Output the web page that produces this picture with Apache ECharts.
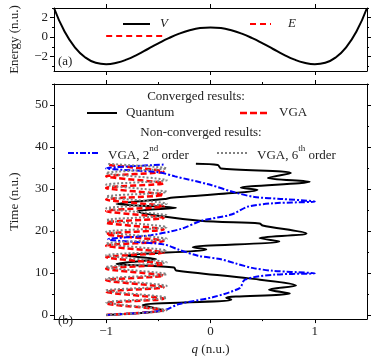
<!DOCTYPE html>
<html>
<head>
<meta charset="utf-8">
<script src="https://cdn.jsdelivr.net/npm/echarts@6/dist/echarts.min.js"></script>
<style>
  html, body { margin: 0; padding: 0; background: #fff; }
  #main { width: 374px; height: 361px; }
</style>
</head>
<body>
<div id="main"></div>
<script>
// (a) potential and energy
var potQ = [-1.5, -1.4, -1.3, -1.2, -1.1, -1.0, -0.9, -0.8, -0.7, -0.6, -0.5, -0.4, -0.3, -0.2, -0.1, 0,
            0.1, 0.2, 0.3, 0.4, 0.5, 0.6, 0.7, 0.8, 0.9, 1.0, 1.1, 1.2, 1.3, 1.4, 1.5]
var potV = [3.0, 0.6, -1.05, -2.1, -2.65, -2.8, -2.65, -2.3, -1.8, -1.23, -0.65, -0.11, 0.35, 0.7, 0.93, 1.0,
            0.93, 0.7, 0.35, -0.11, -0.65, -1.23, -1.8, -2.3, -2.65, -2.8, -2.65, -2.1, -1.05, 0.6, 3.0]
var energyQ = [-1.0, -0.45]
var energyE = [0.1, 0.1]

// (b) trajectories q(t)
var quantumT = [0, 1.1, 2.3, 3.6, 4.1, 5.1, 6.0, 7.0, 8.7, 10.6, 11.3, 12.2, 13.3, 14.1, 15.6, 16.1, 17.5, 18.3, 19.4,
                21.3, 21.8, 22.4, 24.7, 25.5, 26.4, 27.6, 27.9, 29.8, 30.3, 31.7, 32.6, 33.8, 34.9, 35.7, 36.0]
var quantumQ = [-1, -0.45, -0.65, 0.2, 0.15, 0.76, 0.56, 0.82, 0.37, -0.33, -0.35, -0.9, -0.52, -0.8, -0.04, -0.17, 0.66, 0.47, 0.92,
                0.5, 0.47, -0.1, -0.7, -0.33, -0.9, -0.44, -0.38, 0.45, 0.29, 0.95, 0.55, 0.77, 0.1, 0.07, -0.14]

var vgaT = [0, 1.1, 2.75, 3.85, 5.5, 6.6, 8.25, 9.35, 11.0, 12.1, 13.75, 14.85, 16.5, 17.6, 19.25, 20.35,
            22.0, 23.1, 24.75, 25.85, 27.5, 28.6, 30.25, 31.35, 33.0, 34.1, 35.75]
var vgaQ = [-1, -0.45, -1, -0.45, -1, -0.45, -1, -0.45, -1, -0.45, -1, -0.45, -1, -0.45, -1, -0.45,
            -1, -0.45, -1, -0.45, -1, -0.45, -1, -0.45, -1, -0.45, -1]

var vga2T = [0, 1.0, 2.6, 4.2, 6.4, 8.4, 9.6, 9.9, 10.5, 11.2, 12.2, 13.3, 14.1, 15.5, 16.8, 18.0, 19.0, 20.5,
             22.4, 23.9, 25.8, 26.6, 27.0, 27.6, 28.1, 29.2, 31.1, 33.0, 34.0, 34.9, 35.8]
var vga2Q = [-1, -0.46, -0.3, 0.02, 0.28, 0.33, 0.62, 1.0, 0.6, 0.4, 0.25, 0.09, -0.12, -0.3, -0.45, -0.98, -0.57, -0.28,
             -0.09, 0.2, 0.36, 0.61, 1.0, 0.7, 0.42, 0.23, -0.02, -0.34, -0.5, -1.0, -0.45]

var vga6T = [0, 1.1, 3.0, 4.1, 5.8, 6.9, 8.6, 9.7, 11.4, 12.5, 14.2, 15.3, 17.0, 18.1, 19.8, 20.9,
             22.6, 23.7, 25.4, 26.5, 28.2, 29.3, 31.0, 32.1, 33.8, 34.9, 36.0]
var vga6Q = [-1, -0.42, -1, -0.42, -1, -0.42, -1, -0.42, -1, -0.42, -1, -0.42, -1, -0.42, -1, -0.42,
             -1, -0.42, -1, -0.42, -1, -0.42, -1, -0.42, -1, -0.42, -1]

// tick values
var qTicks = [-1, 0, 1]
var qMinor = [-0.5, 0.5]
var eTicks = [-2, 0, 2]
var eMinor = [-3, -1, 1, 3]
var tTicks = [0, 10, 20, 30, 40, 50]
var tMinor = [5, 15, 25, 35, 45, 55]

var font = 'Liberation Serif'
var ink = '#222'
function pairs(xs, ys) { return xs.map(function (x, i) { return [x, ys[i]] }) }
function minus(v) { return v < 0 ? '\u2212' + (-v) : '' + v }

// one axis with major ticks (+labels) and one overlay axis for minor ticks
function makeAxes(grid, pos, min, max, major, minor, labels) {
  var line = { color: '#000', width: 1 }
  var out = [{
    type: 'value', gridIndex: grid, position: pos, min: min, max: max,
    axisLine: { show: true, onZero: false, lineStyle: line },
    axisTick: { show: true, customValues: major, length: 4, lineStyle: line },
    axisLabel: { show: labels, customValues: major, formatter: minus, color: ink, fontFamily: font, fontSize: 13, margin: 6 },
    splitLine: { show: false }
  }]
  if (minor.length) {
    out.push({
      type: 'value', gridIndex: grid, position: pos, min: min, max: max,
      axisLine: { show: false, onZero: false },
      axisTick: { show: true, customValues: minor, length: 2, lineStyle: line },
      axisLabel: { show: false },
      splitLine: { show: false }
    })
  }
  return out
}

var xAxis = [].concat(
  makeAxes(0, 'bottom', -1.5, 1.5, qTicks, [], false),   // 0
  makeAxes(0, 'top', -1.5, 1.5, qTicks, [], false),      // 1
  makeAxes(1, 'bottom', -1.5, 1.5, qTicks, qMinor, true), // 2,3
  makeAxes(1, 'top', -1.5, 1.5, qTicks, qMinor, false)    // 4,5
)
xAxis[2].name = '{i|q} (n.u.)'
xAxis[2].nameLocation = 'middle'
xAxis[2].nameGap = 21
xAxis[2].nameTextStyle = { fontFamily: font, fontSize: 13, color: ink, rich: { i: { fontStyle: 'italic', fontFamily: font, fontSize: 13, color: ink } } }

var yAxis = [].concat(
  makeAxes(0, 'left', -3.5, 3, eTicks, eMinor, true),     // 0,1
  makeAxes(0, 'right', -3.5, 3, eTicks, eMinor, false),   // 2,3
  makeAxes(1, 'left', -1, 55, tTicks, tMinor, true),      // 4,5
  makeAxes(1, 'right', -1, 55, tTicks, tMinor, false)     // 6,7
)
yAxis[0].name = 'Energy (n.u.)'
yAxis[0].nameLocation = 'middle'
yAxis[0].nameGap = 33
yAxis[0].nameTextStyle = { fontFamily: font, fontSize: 13, color: ink }
yAxis[4].name = 'Time (n.u.)'
yAxis[4].nameLocation = 'middle'
yAxis[4].nameGap = 33
yAxis[4].nameTextStyle = { fontFamily: font, fontSize: 13, color: ink }

// hand-placed legend keys, laid out like the original
function key(x1, x2, y, stroke, width, dash) {
  return { type: 'line', shape: { x1: x1, y1: y, x2: x2, y2: y },
           style: { stroke: stroke, lineWidth: width, lineDash: dash || null }, z: 10 }
}
function label(x, y, text, extra) {
  return { type: 'text', x: x, y: y, z: 10,
           style: Object.assign({ text: text, font: '13px ' + font, fill: ink, verticalAlign: 'middle' }, extra || {}) }
}
var supRich = {
  a: { fontFamily: font, fontSize: 13, color: ink, lineHeight: 18, verticalAlign: 'bottom' },
  s: { fontFamily: font, fontSize: 9, color: ink, lineHeight: 18, verticalAlign: 'top' }
}

var graphic = [
  key(123, 150, 24, '#000', 2),
  label(160, 24, 'V', { font: 'italic 13px ' + font }),
  key(250, 271, 24, '#ff0000', 2, [6, 4]),
  label(288, 24, 'E', { font: 'italic 13px ' + font }),
  label(58, 62, '(a)'),

  label(196, 97, 'Converged results:', { align: 'center' }),
  key(87, 117, 113, '#000', 2),
  label(126, 113, 'Quantum'),
  key(240, 268, 113, '#ff0000', 2.5, [7, 3]),
  label(279, 113, 'VGA'),
  label(201, 133, 'Non-converged results:', { align: 'center' }),
  key(68, 100, 153, '#0000ff', 2, [6, 2, 2, 2]),
  label(108, 153, '{a|VGA, 2}{s|nd}{a| order}', { rich: supRich }),
  key(217, 247, 153, '#808080', 2, [2, 2]),
  label(257, 153, '{a|VGA, 6}{s|th}{a| order}', { rich: supRich }),
  label(58, 321, '(b)')
]

var option = {
  animation: false,
  grid: [
    { left: 52, right: 7, top: 8, height: 63 },
    { left: 52, right: 7, top: 84, height: 246 }
  ],
  xAxis: xAxis,
  yAxis: yAxis,
  graphic: graphic,
  series: [
    { name: 'V', type: 'line', xAxisIndex: 0, yAxisIndex: 0, data: pairs(potQ, potV), smooth: true, symbol: 'none',
      lineStyle: { color: '#000', width: 2 } },
    { name: 'E', type: 'line', xAxisIndex: 0, yAxisIndex: 0, data: pairs(energyQ, energyE), symbol: 'none',
      lineStyle: { color: '#ff0000', width: 2, type: [6, 4] } },
    { name: 'Quantum', type: 'line', xAxisIndex: 2, yAxisIndex: 4, data: pairs(quantumQ, quantumT), smooth: 0.3, symbol: 'none',
      lineStyle: { color: '#000', width: 2 } },
    { name: 'VGA', type: 'line', xAxisIndex: 2, yAxisIndex: 4, data: pairs(vgaQ, vgaT), smooth: 0.3, symbol: 'none',
      lineStyle: { color: '#ff0000', width: 2.5, type: [6, 3] } },
    { name: 'VGA, 2nd order', type: 'line', xAxisIndex: 2, yAxisIndex: 4, data: pairs(vga2Q, vga2T), smooth: 0.3, symbol: 'none',
      lineStyle: { color: '#0000ff', width: 2, type: [6, 2, 2, 2] } },
    { name: 'VGA, 6th order', type: 'line', xAxisIndex: 2, yAxisIndex: 4, data: pairs(vga6Q, vga6T), smooth: 0.3, symbol: 'none',
      lineStyle: { color: '#808080', width: 2, type: [2, 2] } }
  ]
}

var myChart = echarts.init(document.getElementById('main'))
myChart.setOption(option)
</script>
</body>
</html>
